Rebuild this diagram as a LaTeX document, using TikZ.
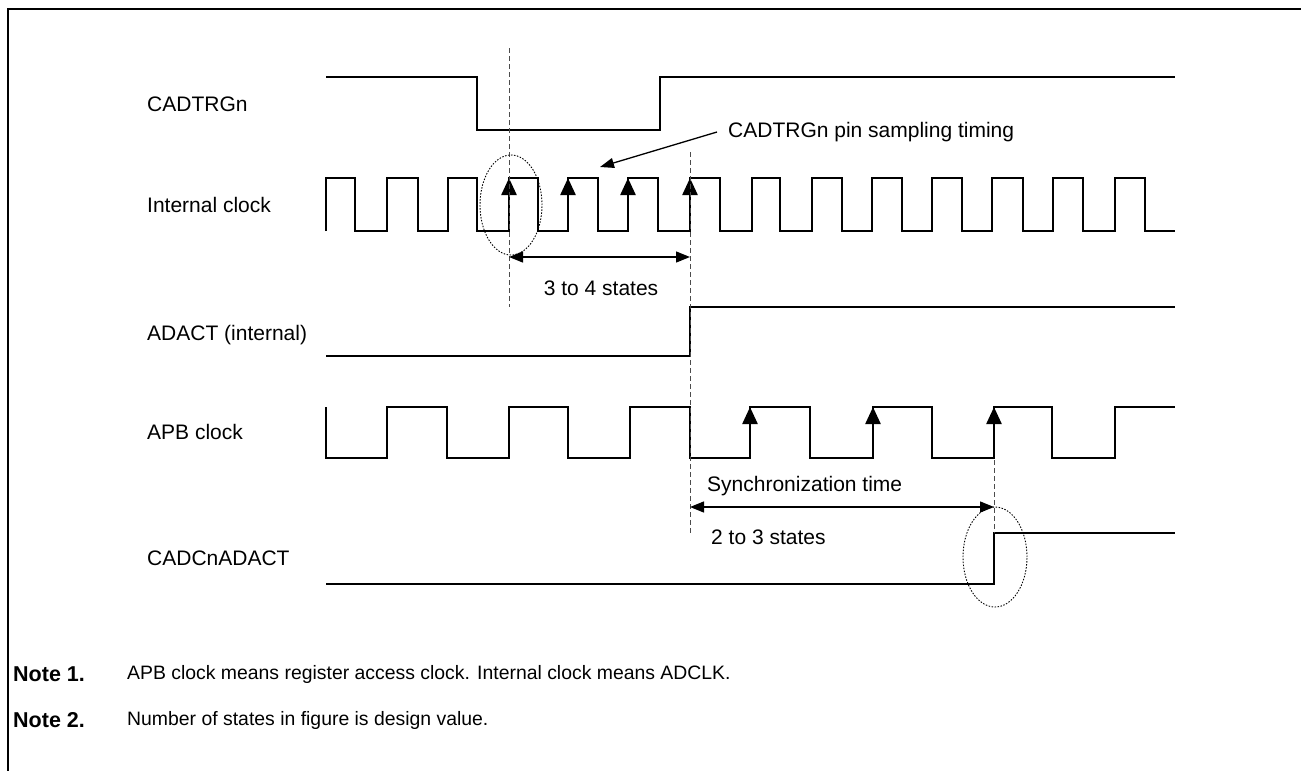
\documentclass[tikz,border=0pt]{standalone}
\usepackage{fontspec}
\setmainfont{Liberation Sans}
\usetikzlibrary{arrows.meta}
\begin{document}
\begin{tikzpicture}[x=1pt,y=-1pt,
  wave/.style={line width=2.4pt, line join=miter},
  lbl/.style={anchor=west, inner sep=0pt, font=\fontsize{21}{25}\selectfont},
  notelbl/.style={anchor=west, inner sep=0pt, font=\fontsize{19.4}{24}\selectfont},
  notehead/.style={anchor=west, inner sep=0pt, font=\fontsize{21.5}{25}\selectfont\bfseries},
  dashv/.style={dash pattern=on 5pt off 3pt, line width=1pt, black!70},
  edgearrow/.style={-{Triangle[length=17pt,width=15pt]}, line width=2.4pt},
  dimarrow/.style={{Triangle[length=14pt,width=11pt]}-{Triangle[length=14pt,width=11pt]}, line width=1.3pt},
  ell/.style={dash pattern=on 1.5pt off 1.5pt, line width=0.9pt},
]
\useasboundingbox (0,0) rectangle (1301,771);
\draw[line width=2pt] (1301,9) -- (8,9) -- (8,771);

% signal labels
\node[lbl] (lcad) at (147,104) {CADTRGn};
\node[lbl] (lint) at (147,205) {Internal clock};
\node[lbl] (ladact) at (147,335) {ADACT (internal)};
\node[lbl] (lapb) at (147,432) {APB clock};
\node[lbl] (lcadc) at (147,558) {CADCnADACT};

% CADTRGn
\draw[wave] (326,77) -- (477,77) -- (477,130) -- (660,130) -- (660,77) -- (1175,77);

% Internal clock
\draw[wave] (326,231)
  \foreach \r/\f in {326/355,387/418,448/477,509/538,568/598,628/658,690/720,752/780,812/842,872/902,932/962,992/1023,1053/1083,1115/1145}
  { -- (\r,231) -- (\r,178) -- (\f,178) -- (\f,231) } -- (1175,231);

% ADACT
\draw[wave] (326,356) -- (690,356) -- (690,307) -- (1175,307);

% APB clock
\draw[wave] (326,407) -- (326,458)
  \foreach \r/\f in {387/447,509/568,630/690,750/810,873/932,994/1052}
  { -- (\r,458) -- (\r,407) -- (\f,407) -- (\f,458) } -- (1115,458) -- (1115,407) -- (1175,407);

% CADCnADACT
\draw[wave] (326,584) -- (994,584) -- (994,533) -- (1175,533);

% rising edge arrows
\foreach \x in {509,568,628,690} { \draw[edgearrow] (\x,231) -- (\x,178); }
\foreach \x in {750,873,994} { \draw[edgearrow] (\x,458) -- (\x,407); }

% dashed guides
\draw[dashv] (509,48) -- (509,307);
\draw[dashv] (690,152) -- (690,535);
\draw[dashv] (994,460) -- (994,533);

% dotted ellipses
\draw[ell] (511,205) ellipse [x radius=31pt, y radius=50pt];
\draw[ell] (995,557) ellipse [x radius=32pt, y radius=50pt];

% dimension 3 to 4 states
\coordinate (d1a) at (509,257);
\coordinate (d1b) at (690,257);
\draw[dimarrow] (d1a) -- (d1b);
\node[lbl, anchor=center] (t34) at (601,288) {3 to 4 states};

% sampling timing annotation
\node[lbl] (samp) at (728,132) {CADTRGn pin sampling timing};
\coordinate (sampend) at (600,167);
\draw[-{Triangle[length=14pt,width=10pt]}, line width=1.3pt] ([xshift=-11pt]samp.west) -- (sampend);

% synchronization
\node[lbl] (sync) at (707,486) {Synchronization time};
\coordinate (d2a) at (690,507);
\coordinate (d2b) at (994,507);
\draw[dimarrow] (d2a) -- (d2b);
\node[lbl] (t23) at (711,537) {2 to 3 states};

% notes
\node[notehead] (n1) at (13,674) {Note 1.};
\node[notelbl] (n1t) at (127,674) {APB clock means register access clock. Internal clock means ADCLK.};
\node[notehead] (n2) at (13,720) {Note 2.};
\node[notelbl] (n2t) at (127,720) {Number of states in figure is design value.};
\end{tikzpicture}
\end{document}
